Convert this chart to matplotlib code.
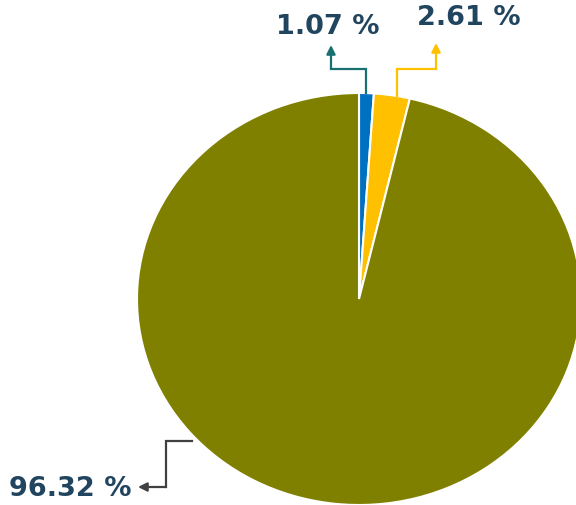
import matplotlib.pyplot as plt
import numpy as np

labels = ['1.07 %', '2.61 %', '96.32 %']
shares = [1.07, 2.61, 96.32]
colors = ['#0070C0', '#FFC000', '#808000']
leader_colors = ['#187070', '#FFC000', '#404040']
text_color = '#21455F'

W, H = 576, 506
# pie centre and radii in pixels (the reference pie is slightly stretched)
cx, cy, rx, ry = 359, 300, 222, 206


def to_data(x, y):
    return (x - cx) / rx, (cy - y) / ry


fig = plt.figure(figsize=(W / 100, H / 100), dpi=100)
ax = fig.add_axes([0, 0, 1, 1])
wedges, _ = ax.pie(shares, colors=colors, startangle=90, counterclock=False,
                   wedgeprops=dict(edgecolor='white', linewidth=1.5))
ax.set_aspect('auto')
ax.set_xlim(-cx / rx, (W - cx) / rx)
ax.set_ylim(-(H - cy) / ry, cy / ry)
ax.axis('off')

# where each leader leaves the pie: fraction along wedge
anchor_frac = [0.5, 0.35, None]
anchors = []
for w, f in zip(wedges, anchor_frac):
    if f is None:
        th = np.deg2rad(222.6)
        anchors.append((1.02 * np.cos(th), 1.02 * np.sin(th)))
    else:
        th = np.deg2rad(w.theta1 + f * (w.theta2 - w.theta1))
        anchors.append((np.cos(th), np.sin(th)))

# elbow / tip positions in pixels (layout)
elbows = [
    [('v', 70), ('h', 331), ('v', 46)],
    [('v', 70), ('h', 436), ('v', 44)],
    [('h', 166), ('v', 488), ('h', 138)],
]
text_pos = [(328, 27), (469, 18), (70, 489)]

for a, path, c, lab, tp in zip(anchors, elbows, leader_colors, labels, text_pos):
    pts = [a]
    for kind, val in path:
        x, y = pts[-1]
        if kind == 'v':
            pts.append((x, (cy - val) / ry))
        else:
            pts.append(((val - cx) / rx, y))
    xs = [p[0] for p in pts[:-1]]
    ys = [p[1] for p in pts[:-1]]
    ax.plot(xs, ys, color=c, lw=1.6, solid_joinstyle='miter', clip_on=False)
    ax.annotate('', xy=pts[-1], xytext=pts[-2],
                arrowprops=dict(arrowstyle='-|>', color=c, lw=1.6,
                                mutation_scale=13, shrinkA=0, shrinkB=0))
    tx, ty = to_data(*tp)
    ax.text(tx, ty, lab, ha='center', va='center', fontsize=19.5,
            fontweight='bold', color=text_color)

fig.savefig('out.png', dpi=100)
